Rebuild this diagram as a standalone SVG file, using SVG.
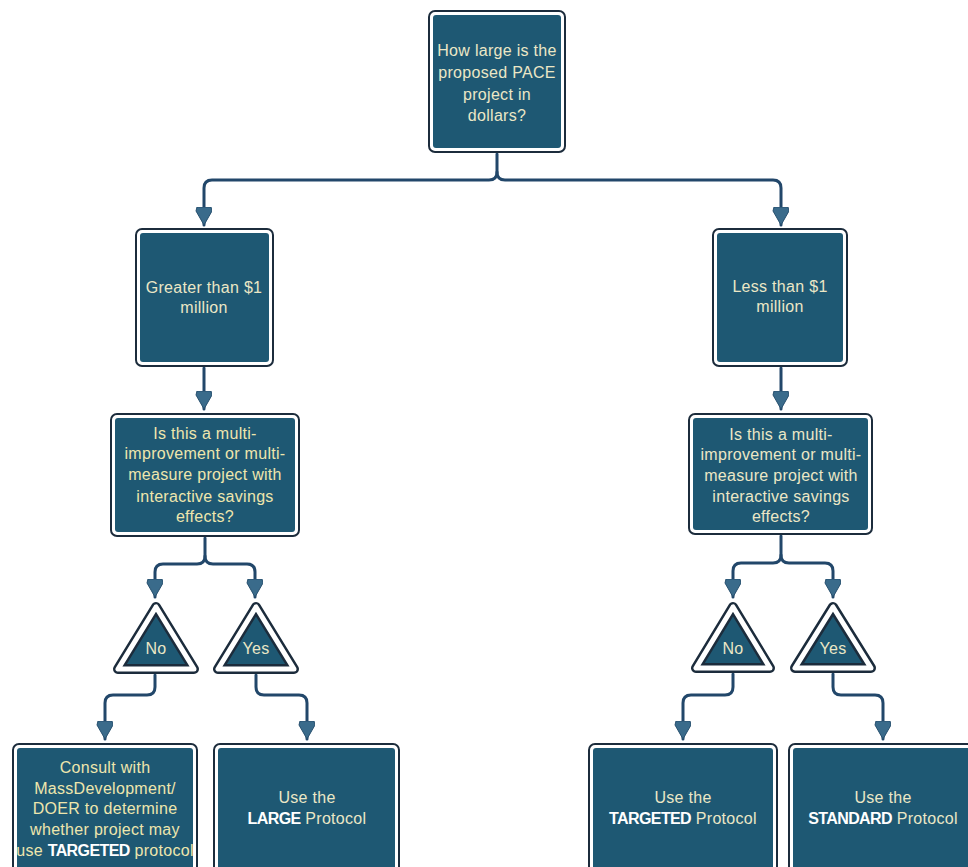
<svg xmlns="http://www.w3.org/2000/svg" width="968" height="867" viewBox="0 0 968 867">
<style>
.frame{fill:#ffffff;stroke:#1c2c3c;stroke-width:2}
.fill{fill:#1e5873}
.tri{fill:#1e5873;stroke:#1c2c3c;stroke-width:10;stroke-linejoin:round}
.triw{fill:none;stroke:#ffffff;stroke-width:5;stroke-linejoin:round}
.t{font-family:"Liberation Sans",Arial,sans-serif;font-size:16px;letter-spacing:0.3px;fill:#ebe7c6;text-anchor:middle}
.q{fill:#eee6ad}
.b{font-weight:bold;fill:#ffffff;letter-spacing:-0.6px}
.c{fill:none;stroke:#22476a;stroke-width:3;stroke-linecap:round}
</style>
<defs>
<marker id="ah" markerUnits="userSpaceOnUse" markerWidth="20" markerHeight="18" refX="18" refY="8" orient="auto">
<path d="M0,1 L4,0 L18,8 L4,16 L0,15 Z" fill="#3a6b8b" stroke="#264f6e" stroke-width="1"/>
</marker>
</defs>

<g id="connectors">
<path class="c" marker-end="url(#ah)" d="M497,154 V172 Q497,180 489,180 H212 Q204,180 204,188 V225"/>
<path class="c" marker-end="url(#ah)" d="M497,172 Q497,180 505,180 H773 Q781,180 781,188 V225"/>
<path class="c" marker-end="url(#ah)" d="M204,368 V409"/>
<path class="c" marker-end="url(#ah)" d="M781,368 V409"/>
<path class="c" marker-end="url(#ah)" d="M205,538 V556 Q205,564 197,564 H163 Q155,564 155,572 V597"/>
<path class="c" marker-end="url(#ah)" d="M205,556 Q205,564 213,564 H247 Q255,564 255,572 V597"/>
<path class="c" marker-end="url(#ah)" d="M781,536 V555 Q781,563 773,563 H741 Q733,563 733,571 V597"/>
<path class="c" marker-end="url(#ah)" d="M781,555 Q781,563 789,563 H825 Q833,563 833,571 V597"/>
<path class="c" marker-end="url(#ah)" d="M155,675 V687 Q155,695 147,695 H113 Q105,695 105,703 V739"/>
<path class="c" marker-end="url(#ah)" d="M256,675 V687 Q256,695 264,695 H299 Q307,695 307,703 V739"/>
<path class="c" marker-end="url(#ah)" d="M733,674 V687 Q733,695 725,695 H691 Q683,695 683,703 V739"/>
<path class="c" marker-end="url(#ah)" d="M833,674 V687 Q833,695 841,695 H875 Q883,695 883,703 V739"/>
</g>

<g id="n1">
<rect class="frame" x="429" y="11" width="136" height="141" rx="6"/>
<rect class="fill" x="433" y="15" width="128" height="133" rx="3"/>
<text class="t" x="497" y="56">How large is the</text>
<text class="t" x="497" y="78">proposed PACE</text>
<text class="t" x="497" y="100">project in</text>
<text class="t" x="497" y="121">dollars?</text>
</g>

<g id="n2">
<rect class="frame" x="136" y="229" width="137" height="137" rx="6"/>
<rect class="fill" x="140" y="233" width="129" height="129" rx="3"/>
<text class="t" x="204" y="293">Greater than $1</text>
<text class="t" x="204" y="313">million</text>
</g>

<g id="n3">
<rect class="frame" x="713" y="229" width="134" height="137" rx="6"/>
<rect class="fill" x="717" y="233" width="126" height="129" rx="3"/>
<text class="t" x="780" y="292">Less than $1</text>
<text class="t" x="780" y="312">million</text>
</g>

<g id="n4">
<rect class="frame" x="111" y="414" width="188" height="122" rx="6"/>
<rect class="fill" x="115" y="418" width="180" height="114" rx="3"/>
<text class="t q" x="205" y="439">Is this a multi-</text>
<text class="t q" x="205" y="459">improvement or multi-</text>
<text class="t q" x="205" y="480">measure project with</text>
<text class="t q" x="205" y="502">interactive savings</text>
<text class="t q" x="205" y="522">effects?</text>
</g>

<g id="n5">
<rect class="frame" x="689" y="414" width="183" height="120" rx="6"/>
<rect class="fill" x="693" y="418" width="175" height="112" rx="3"/>
<text class="t" x="781" y="440">Is this a multi-</text>
<text class="t" x="781" y="460">improvement or multi-</text>
<text class="t" x="781" y="481">measure project with</text>
<text class="t" x="781" y="502">interactive savings</text>
<text class="t" x="781" y="522">effects?</text>
</g>

<g id="t1">
<polygon class="tri" points="156,607 118,669 194,669"/>
<polygon class="triw" points="156,607 118,669 194,669"/>
<text class="t" x="156" y="654">No</text>
</g>
<g id="t2">
<polygon class="tri" points="256,607 218,669 294,669"/>
<polygon class="triw" points="256,607 218,669 294,669"/>
<text class="t" x="256" y="654">Yes</text>
</g>
<g id="t3">
<polygon class="tri" points="733,607 696,668 770,668"/>
<polygon class="triw" points="733,607 696,668 770,668"/>
<text class="t" x="733" y="654">No</text>
</g>
<g id="t4">
<polygon class="tri" points="833,607 795,668 871,668"/>
<polygon class="triw" points="833,607 795,668 871,668"/>
<text class="t" x="833" y="654">Yes</text>
</g>

<g id="b1">
<rect class="frame" x="13" y="744" width="184" height="140" rx="6"/>
<rect class="fill" x="17" y="748" width="176" height="132" rx="3"/>
<text class="t q" x="105" y="773">Consult with</text>
<text class="t q" x="105" y="794">MassDevelopment/</text>
<text class="t q" x="105" y="814">DOER to determine</text>
<text class="t q" x="105" y="835">whether project may</text>
<text class="t q" x="105" y="856">use <tspan class="b">TARGETED</tspan> protocol</text>
</g>

<g id="b2">
<rect class="frame" x="214" y="744" width="185" height="140" rx="6"/>
<rect class="fill" x="218" y="748" width="177" height="132" rx="3"/>
<text class="t" x="307" y="803">Use the</text>
<text class="t" x="307" y="824"><tspan class="b">LARGE</tspan> Protocol</text>
</g>

<g id="b3">
<rect class="frame" x="589" y="744" width="188" height="140" rx="6"/>
<rect class="fill" x="593" y="748" width="180" height="132" rx="3"/>
<text class="t" x="683" y="803">Use the</text>
<text class="t" x="683" y="824"><tspan class="b">TARGETED</tspan> Protocol</text>
</g>

<g id="b4">
<rect class="frame" x="789" y="744" width="188" height="140" rx="6"/>
<rect class="fill" x="793" y="748" width="180" height="132" rx="3"/>
<text class="t" x="883" y="803">Use the</text>
<text class="t" x="883" y="824"><tspan class="b">STANDARD</tspan> Protocol</text>
</g>
</svg>
